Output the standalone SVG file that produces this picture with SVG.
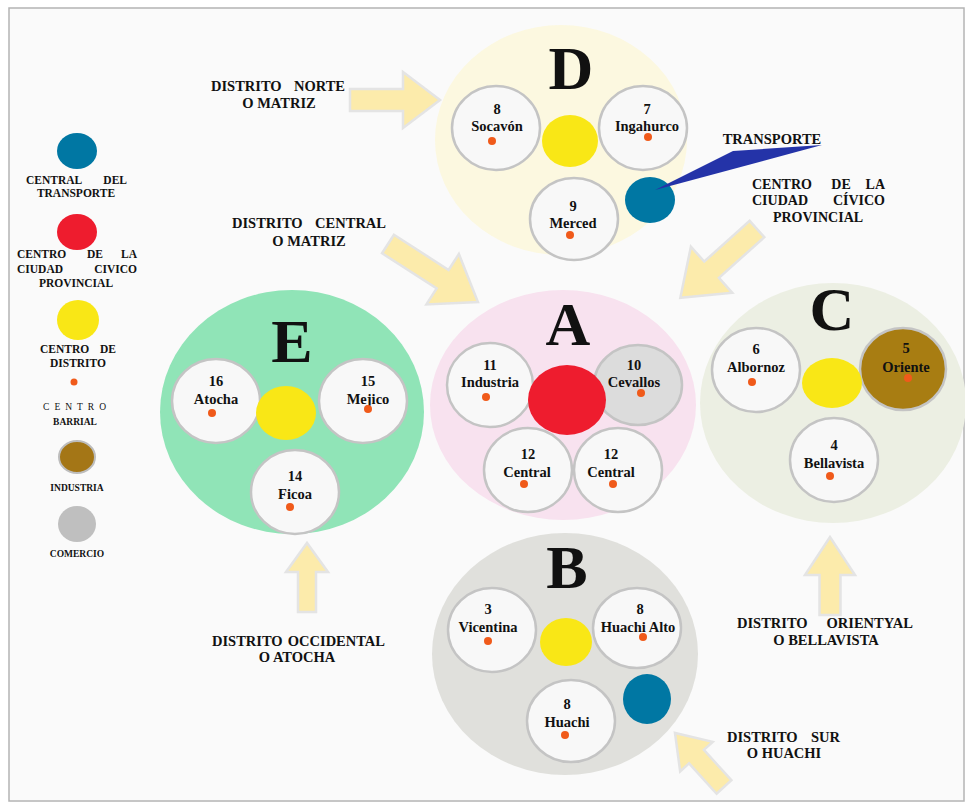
<svg xmlns="http://www.w3.org/2000/svg" width="965" height="802" viewBox="0 0 965 802">
<style>
text{font-family:"Liberation Serif","Times New Roman",serif;font-weight:bold;fill:#111}
.lbl{font-size:14.5px}
.leg{font-size:11.5px}
.legs{font-size:9.5px}
.m{text-anchor:middle}
.e{text-anchor:end}
.nd{font-size:14.5px;text-anchor:middle}
.big{font-size:62px;text-anchor:middle}
.sub{fill:#f8f8f8;stroke:#c4c4c4;stroke-width:2.5}
.dot{fill:#f05a1a}
.arrow{fill:#fcebab;stroke:#e4e4e4;stroke-width:2.5;stroke-linejoin:miter}
.yel{fill:#f9e716}
.teal{fill:#0077a3}
</style>
<rect x="0" y="0" width="965" height="802" fill="#ffffff"/>
<rect x="9" y="8" width="955" height="793" fill="#fafafa" stroke="#b4b4b4" stroke-width="1.5"/>

<g id="legend">
<ellipse cx="77" cy="151" rx="20" ry="18" class="teal"/>
<text class="leg" x="26" y="184">CENTRAL</text>
<text class="leg e" x="127" y="184">DEL</text>
<text class="leg m" x="76" y="197">TRANSPORTE</text>
<ellipse cx="77" cy="232" rx="20" ry="18" fill="#ee1c2e"/>
<text class="leg" x="17" y="258">CENTRO</text>
<text class="leg m" x="95" y="258">DE</text>
<text class="leg e" x="137" y="258">LA</text>
<text class="leg" x="17" y="273">CIUDAD</text>
<text class="leg e" x="137" y="273">CIVICO</text>
<text class="leg m" x="76" y="287">PROVINCIAL</text>
<ellipse cx="78" cy="320" rx="21" ry="20" class="yel"/>
<text class="leg" x="40" y="353">CENTRO</text>
<text class="leg e" x="116" y="353">DE</text>
<text class="leg m" x="78" y="367">DISTRITO</text>
<circle cx="74" cy="382" r="3.5" class="dot"/>
<text class="legs" x="43" y="410" textLength="63" lengthAdjust="spacing" style="font-weight:normal">C E N T R O</text>
<text class="legs m" x="75" y="425">BARRIAL</text>
<ellipse cx="77" cy="457" rx="18" ry="16" fill="#a47616" stroke="#bdbdbd" stroke-width="2"/>
<text class="legs m" x="77" y="491">INDUSTRIA</text>
<ellipse cx="77" cy="524" rx="19" ry="18" fill="#bfbfbf"/>
<text class="legs m" x="77" y="557">COMERCIO</text>
</g>

<g id="district-D">
<ellipse cx="561" cy="140" rx="126" ry="115" fill="#fcf8e0"/>
<text class="big" x="571" y="89">D</text>
<ellipse cx="496" cy="128" rx="44" ry="42" class="sub"/>
<text class="nd" x="497" y="114">8</text>
<text class="nd" x="497" y="131">Socavón</text>
<circle cx="492" cy="141" r="4" class="dot"/>
<ellipse cx="643" cy="128" rx="44" ry="42" class="sub"/>
<text class="nd" x="647" y="114">7</text>
<text class="nd" x="647" y="131">Ingahurco</text>
<circle cx="648" cy="137" r="4" class="dot"/>
<ellipse cx="570" cy="141" rx="28" ry="26" class="yel"/>
<ellipse cx="574" cy="219" rx="44" ry="41" class="sub"/>
<text class="nd" x="573" y="211">9</text>
<text class="nd" x="573" y="228">Merced</text>
<circle cx="570" cy="235" r="4" class="dot"/>
<ellipse cx="650" cy="200" rx="25" ry="23" class="teal"/>
</g>

<g id="district-A">
<ellipse cx="563" cy="405" rx="133" ry="115" fill="#f8e2ef"/>
<text class="big" x="568" y="345">A</text>
<ellipse cx="490" cy="385" rx="43" ry="42" class="sub"/>
<text class="nd" x="490" y="370">11</text>
<text class="nd" x="490" y="387">Industria</text>
<circle cx="486" cy="397" r="4" class="dot"/>
<ellipse cx="638" cy="385" rx="44" ry="40" class="sub" style="fill:#dcdcdc"/>
<text class="nd" x="634" y="370">10</text>
<text class="nd" x="634" y="387">Cevallos</text>
<circle cx="641" cy="393" r="4" class="dot"/>
<ellipse cx="567" cy="400" rx="39" ry="35" fill="#ee1c2e"/>
<ellipse cx="528" cy="470" rx="44" ry="42" class="sub"/>
<text class="nd" x="528" y="459">12</text>
<text class="nd" x="527" y="477">Central</text>
<circle cx="524" cy="484" r="4" class="dot"/>
<ellipse cx="618" cy="470" rx="44" ry="42" class="sub"/>
<text class="nd" x="611" y="459">12</text>
<text class="nd" x="611" y="477">Central</text>
<circle cx="613" cy="484" r="4" class="dot"/>
</g>

<g id="district-C">
<ellipse cx="833" cy="403" rx="133" ry="120" fill="#ecefe3"/>
<text class="big" x="832" y="330">C</text>
<ellipse cx="756" cy="370" rx="44" ry="42" class="sub"/>
<text class="nd" x="756" y="354">6</text>
<text class="nd" x="756" y="372">Albornoz</text>
<circle cx="752" cy="382" r="4" class="dot"/>
<ellipse cx="903" cy="369" rx="43" ry="41" fill="#a87d12" stroke="#c4c4c4" stroke-width="2.5"/>
<text class="nd" x="906" y="353">5</text>
<text class="nd" x="906" y="372">Oriente</text>
<circle cx="908" cy="378" r="4" class="dot"/>
<ellipse cx="832" cy="383" rx="30" ry="25" class="yel"/>
<ellipse cx="834" cy="460" rx="44" ry="42" class="sub"/>
<text class="nd" x="834" y="450">4</text>
<text class="nd" x="834" y="468">Bellavista</text>
<circle cx="830" cy="476" r="4" class="dot"/>
</g>

<g id="district-E">
<ellipse cx="292" cy="412" rx="132" ry="122" fill="#90e4b7"/>
<text class="big" x="292" y="362">E</text>
<ellipse cx="216" cy="401" rx="44" ry="42" class="sub"/>
<text class="nd" x="216" y="386">16</text>
<text class="nd" x="216" y="404">Atocha</text>
<circle cx="212" cy="413" r="4" class="dot"/>
<ellipse cx="363" cy="401" rx="44" ry="42" class="sub"/>
<text class="nd" x="368" y="386">15</text>
<text class="nd" x="368" y="404">Mejico</text>
<circle cx="368" cy="409" r="4" class="dot"/>
<ellipse cx="286" cy="413" rx="30" ry="27" class="yel"/>
<ellipse cx="295" cy="492" rx="44" ry="42" class="sub"/>
<text class="nd" x="295" y="481">14</text>
<text class="nd" x="295" y="499">Ficoa</text>
<circle cx="290" cy="507" r="4" class="dot"/>
</g>

<g id="district-B">
<ellipse cx="565" cy="654" rx="133" ry="121" fill="#e0e0dc"/>
<text class="big" x="567" y="588">B</text>
<ellipse cx="492" cy="630" rx="44" ry="42" class="sub"/>
<text class="nd" x="488" y="614">3</text>
<text class="nd" x="488" y="632">Vicentina</text>
<circle cx="488" cy="641" r="4" class="dot"/>
<ellipse cx="637" cy="628" rx="44" ry="40" class="sub"/>
<text class="nd" x="640" y="614">8</text>
<text class="nd" x="638" y="632">Huachi Alto</text>
<circle cx="643" cy="637" r="4" class="dot"/>
<ellipse cx="566" cy="642" rx="26" ry="24" class="yel"/>
<ellipse cx="571" cy="721" rx="44" ry="41" class="sub"/>
<text class="nd" x="567" y="709">8</text>
<text class="nd" x="567" y="727">Huachi</text>
<circle cx="565" cy="735" r="4" class="dot"/>
<ellipse cx="647" cy="699" rx="24" ry="25" class="teal"/>
</g>

<g id="connectors">
<path class="arrow" transform="translate(350,100)" d="M0,-11 L53,-11 L53,-28 L90,0 L53,28 L53,11 L0,11 Z"/>
<path class="arrow" transform="translate(388,244) rotate(32.8)" d="M0,-11 L65,-11 L65,-30 L107,0 L65,30 L65,11 L0,11 Z"/>
<path class="arrow" transform="translate(757,229) rotate(138.1)" d="M0,-11 L61,-11 L61,-31 L103,0 L61,31 L61,11 L0,11 Z"/>
<path class="arrow" transform="translate(724,787) rotate(227.8)" d="M0,-10 L41,-10 L41,-22 L73,0 L41,22 L41,10 L0,10 Z"/>
<path class="arrow" transform="translate(307,612) rotate(-90)" d="M0,-9 L40,-9 L40,-21 L69,0 L40,21 L40,9 L0,9 Z"/>
<path class="arrow" transform="translate(830,615) rotate(-90)" d="M0,-10.5 L40,-10.5 L40,-25 L78,0 L40,25 L40,10.5 L0,10.5 Z"/>
<polygon points="655,190 733,151 822,145" fill="#2433a8"/>
</g>

<g id="labels">
<text class="lbl" x="211" y="91">DISTRITO</text>
<text class="lbl e" x="345" y="91">NORTE</text>
<text class="lbl m" x="279" y="108">O MATRIZ</text>
<text class="lbl" x="232" y="228">DISTRITO</text>
<text class="lbl e" x="386" y="228">CENTRAL</text>
<text class="lbl m" x="309" y="246">O MATRIZ</text>
<text class="lbl m" x="772" y="144">TRANSPORTE</text>
<text class="lbl" x="752" y="189" style="font-size:14px">CENTRO</text>
<text class="lbl m" x="841" y="189" style="font-size:14px">DE</text>
<text class="lbl e" x="885" y="189" style="font-size:14px">LA</text>
<text class="lbl" x="752" y="205" style="font-size:14px">CIUDAD</text>
<text class="lbl e" x="885" y="205" style="font-size:14px">CÍVICO</text>
<text class="lbl m" x="818" y="222" style="font-size:14px">PROVINCIAL</text>
<text class="lbl" x="212" y="646">DISTRITO</text>
<text class="lbl e" x="385" y="646">OCCIDENTAL</text>
<text class="lbl m" x="297" y="662">O ATOCHA</text>
<text class="lbl" x="737" y="628">DISTRITO</text>
<text class="lbl e" x="913" y="628">ORIENTYAL</text>
<text class="lbl m" x="826" y="645">O BELLAVISTA</text>
<text class="lbl" x="727" y="742">DISTRITO</text>
<text class="lbl e" x="840" y="742">SUR</text>
<text class="lbl m" x="784" y="758">O HUACHI</text>
</g>
</svg>
